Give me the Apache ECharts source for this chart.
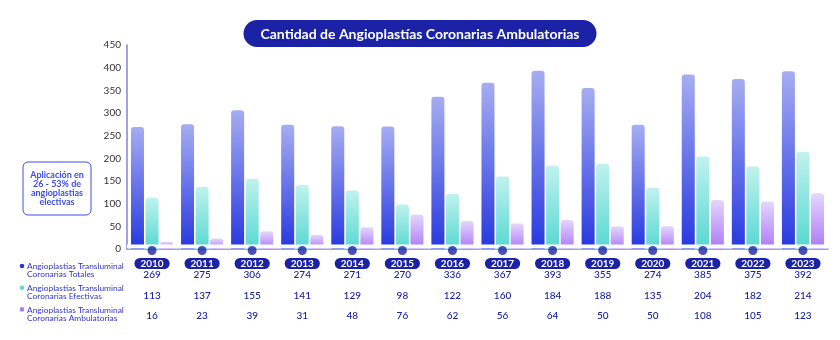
<!DOCTYPE html>
<html>
<head>
<meta charset="utf-8">
<script src="https://cdn.jsdelivr.net/npm/echarts@6/dist/echarts.min.js"></script>
<style>html,body{margin:0;padding:0;background:#fff}#c{width:840px;height:340px}</style>
</head>
<body>
<div id="c"></div>
<script>
const years = ['2010','2011','2012','2013','2014','2015','2016','2017','2018','2019','2020','2021','2022','2023'];
const totales = [269, 275, 306, 274, 271, 270, 336, 367, 393, 355, 274, 385, 375, 392];
const efectivas = [113, 137, 155, 141, 129, 98, 122, 160, 184, 188, 135, 204, 182, 214];
const ambulatorias = [16, 23, 39, 31, 48, 76, 62, 56, 64, 50, 50, 108, 105, 123];
const seriesNames = [
  'Angioplastias Transluminal\nCoronarias Totales',
  'Angioplastias Transluminal\nCoronarias Efectivas',
  'Angioplastias Transluminal\nCoronarias Ambulatorias'
];
const yTicks = [0, 50, 100, 150, 200, 250, 300, 350, 400, 450];
const titleText = 'Cantidad de Angioplastías Coronarias Ambulatorias';
const noteText = 'Aplicación en\n26 - 53% de\nangioplastias\nelectivas';

const FONT = 'Lato, "Noto Sans", sans-serif';
const NAVY = '#1b22a6';
const grad = (a, b) => new echarts.graphic.LinearGradient(0, 0, 0, 1, [{offset: 0, color: a}, {offset: 1, color: b}]);
const serieColors = [['#a6adf1', '#2637e0'], ['#c0f2ee', '#58d7d1'], ['#e5d6fd', '#ab78f7']];
const bulletColors = ['#2a33d6', '#5fd9d2', '#a97ef6'];

const chart = echarts.init(document.getElementById('c'), null, {renderer: 'canvas'});

function rowAxis(data, margin) {
  return {
    type: 'category', data: data.map(String), position: 'bottom', gridIndex: 0,
    axisLine: {show: false}, axisTick: {show: false}, splitLine: {show: false},
    axisLabel: {interval: 0, margin: margin, color: NAVY, fontSize: 10, fontFamily: FONT, fontWeight: 500, lineHeight: 12}
  };
}

const legendGraphics = [];
seriesNames.forEach((n, i) => {
  const y0 = 262.5 + i * 21.7;
  legendGraphics.push({type: 'circle', shape: {cx: 22, cy: y0 + 3.5, r: 2.3}, style: {fill: bulletColors[i]}});
  legendGraphics.push({type: 'text', x: 27, y: y0, style: {text: n, fill: '#3236c4', font: '8.4px ' + FONT, lineHeight: 8}});
});

const baseGraphics = [
  {type: 'rect', shape: {x: 23, y: 162, width: 68, height: 53, r: 5},
   style: {fill: '#fff', stroke: '#3a4ee6', lineWidth: 1}},
  {type: 'text', x: 57, y: 188.5, style: {text: noteText, fill: '#3a4ee6', font: 'bold 9px ' + FONT,
    align: 'center', verticalAlign: 'middle', lineHeight: 9}}
].concat(legendGraphics);

chart.setOption({
  animation: false,
  title: {
    text: titleText, left: 'center', top: 20,
    backgroundColor: NAVY, borderRadius: 14, padding: [7, 17, 6, 17],
    textStyle: {color: '#fff', fontSize: 14, fontWeight: 'bold', fontFamily: FONT}
  },
  grid: {left: 127, right: 12, top: 45, bottom: 91, containLabel: false},
  xAxis: [
    {
      type: 'category', data: years,
      axisLine: {show: true, lineStyle: {color: '#7f86d6', width: 1.5}},
      axisTick: {show: false},
      axisLabel: {
        interval: 0, margin: 9, color: '#fff', fontSize: 10, fontWeight: 'bold', fontFamily: FONT,
        backgroundColor: NAVY, borderRadius: 6, padding: [1, 6, 0, 6], lineHeight: 10
      }
    },
    rowAxis(totales, 20),
    rowAxis(efectivas, 40.5),
    rowAxis(ambulatorias, 61)
  ],
  yAxis: {
    type: 'value', min: yTicks[0], max: yTicks[yTicks.length - 1], interval: 50,
    axisLine: {show: true, lineStyle: {color: '#7f86d6', width: 1.5}},
    axisTick: {show: false}, splitLine: {show: false},
    axisLabel: {color: '#333', fontSize: 10, fontFamily: FONT, margin: 6}
  },
  series: [
    {name: seriesNames[0], type: 'bar', data: totales, barWidth: 13, barGap: '12%',
     itemStyle: {color: grad(serieColors[0][0], serieColors[0][1]), borderRadius: [3, 3, 0, 0]}},
    {name: seriesNames[1], type: 'bar', data: efectivas, barWidth: 13, barGap: '12%',
     itemStyle: {color: grad(serieColors[1][0], serieColors[1][1]), borderRadius: [3, 3, 0, 0]}},
    {name: seriesNames[2], type: 'bar', data: ambulatorias, barWidth: 13, barGap: '12%',
     itemStyle: {color: grad(serieColors[2][0], serieColors[2][1]), borderRadius: [3, 3, 0, 0]}},
    {type: 'scatter', data: years.map(() => 0), symbol: 'circle', symbolSize: 9, symbolOffset: [0, 1.5],
     clip: false, z: 5, itemStyle: {color: NAVY}, silent: true}
  ],
  graphic: baseGraphics
});

// white strip just above the baseline (bars in the reference stop a little above zero)
const yZero = chart.convertToPixel({yAxisIndex: 0}, 0);
const yCut = chart.convertToPixel({yAxisIndex: 0}, 10);
const xL = chart.convertToPixel({xAxisIndex: 0}, years[0]) - 25;
const xR = chart.convertToPixel({xAxisIndex: 0}, years[years.length - 1]) + 25;
chart.setOption({
  graphic: baseGraphics.concat([
    {type: 'rect', z: 3, shape: {x: xL, y: yCut, width: xR - xL, height: yZero - yCut - 0.5},
     style: {fill: '#fff'}, silent: true}
  ])
});
</script>
</body>
</html>
